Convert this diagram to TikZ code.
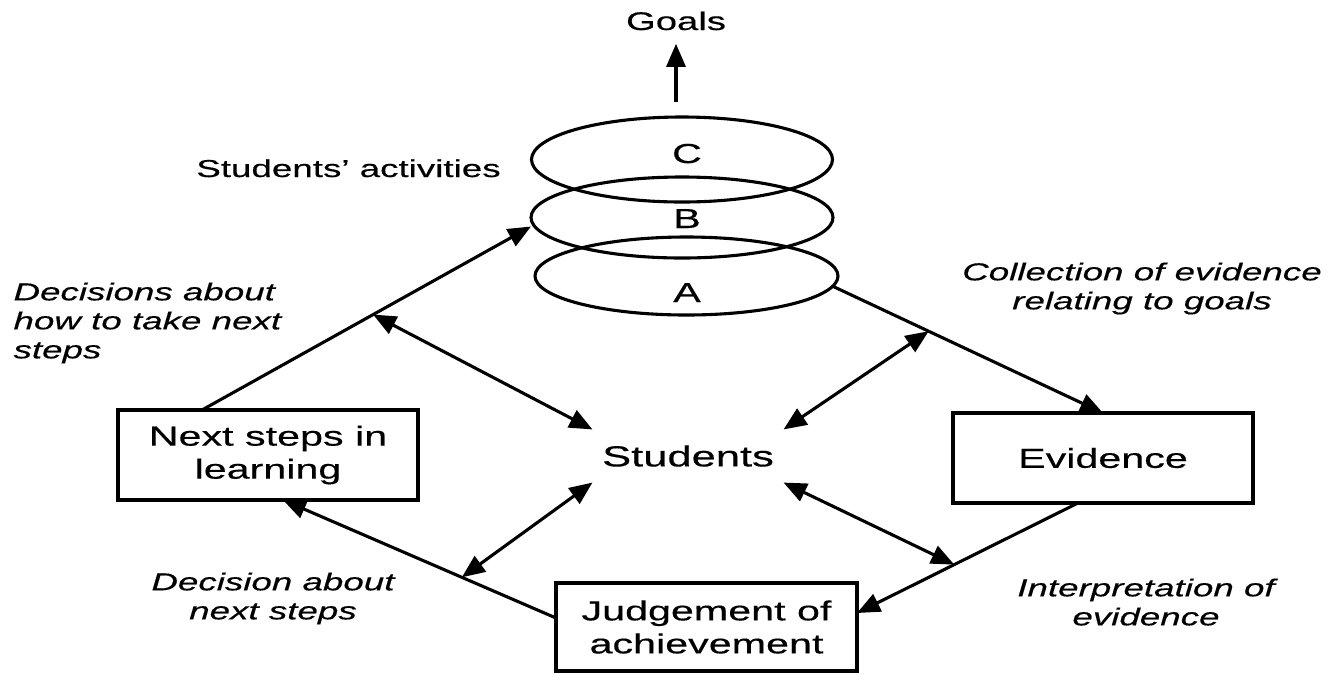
\documentclass[tikz,border=0pt]{standalone}
\usepackage{fontspec}
\setmainfont{Liberation Sans}[FakeStretch=1.5,FakeBold=0.4]
\usetikzlibrary{arrows.meta,calc,shapes.geometric}
\begin{document}
\begin{tikzpicture}[x=1pt,y=-1pt,
  line width=3.1pt,
  arr/.style={-{Triangle[length=23pt,width=19pt]}},
  darr/.style={{Triangle[length=23pt,width=19pt]}-{Triangle[length=23pt,width=19pt]}},
  box/.style={draw, minimum width=300pt, minimum height=90pt, inner sep=0pt, outer sep=0pt, align=center, font=\fontsize{27.5}{33}\selectfont},
  ring/.style={draw, ellipse, inner sep=0pt, outer sep=0pt},
  letter/.style={anchor=base, inner sep=0pt, font=\fontsize{27.5}{33}\selectfont},
  lbl/.style={inner sep=0pt, font=\fontsize{24.5}{29}\selectfont\itshape},
]
\useasboundingbox (0,0) rectangle (1340,673);

% boxes
\node[box] (next) at (268,455) {Next steps in\\learning};
\node[box] (evid) at (1103,458) {Evidence};
\node[box, minimum width=301pt, minimum height=88pt] (judg) at (706.5,627) {Judgement of\\achievement};

% rings
\node[ring, minimum width=301pt, minimum height=85pt] (ellC) at (682,159.5) {};
\node[ring, minimum width=302pt, minimum height=81pt] (ellB) at (682,217.5) {};
\node[ring, minimum width=303pt, minimum height=78pt] (ellA) at (686.5,276) {};
\node[letter] (lc) at (687,163) {C};
\node[letter] (lb) at (687,228) {B};
\node[letter] (la) at (687,302) {A};

% texts
\node[anchor=base, inner sep=0pt, font=\fontsize{25.5}{30}\selectfont] (goals) at (676,30) {Goals};
\node[anchor=base, inner sep=0pt, font=\fontsize{24.5}{29}\selectfont] (sact) at (348.5,177) {Students’ activities};
\node[inner sep=0pt, minimum width=188pt, minimum height=50pt, font=\fontsize{29}{34}\selectfont] (stud) at (688,456) {Students};

\node[lbl, anchor=north west, align=left] (l1) at (12,281) {Decisions about\\how to take next\\steps};
\node[lbl, anchor=north, align=center] (l2) at (1142,261) {Collection of evidence\\relating to goals};
\node[lbl, anchor=north, align=center] (l3) at (273,571) {Decision about\\next steps};
\node[lbl, anchor=north, align=center] (l4) at (1146,577) {Interpretation of\\evidence};

% connectors
\coordinate (gstart) at (676,102);
\draw[arr, shorten >=12pt] (gstart) -- (goals.south);

\coordinate (nb1) at ($(next.north)+(-66,0)$);
\coordinate (nb2) at ($(ellB.west)+(0,9)$);
\draw[arr] (nb1) -- (nb2);
\coordinate (m1) at ($(nb1)!0.52!(nb2)$);
\draw[darr] (m1) -- (stud.north west);

\coordinate (ae1) at (ellA.-4.7);
\coordinate (ae2) at (evid.north);
\draw[arr] (ae1) -- (ae2);
\coordinate (m2) at ($(ae1)!0.355!(ae2)$);
\draw[darr] (stud.north east) -- (m2);

\coordinate (ej1) at ($(evid.south)+(-25,0)$);
\coordinate (ej2) at ($(judg.east)+(0,-14)$);
\draw[arr] (ej1) -- (ej2);
\coordinate (m3) at ($(ej1)!0.56!(ej2)$);
\draw[darr] (stud.south east) -- (m3);

\coordinate (jn1) at ($(judg.west)+(0,-9)$);
\coordinate (jn2) at ($(next.south)+(15,0)$);
\draw[arr] (jn1) -- (jn2);
\coordinate (m4) at ($(jn1)!0.345!(jn2)$);
\draw[darr] (stud.south west) -- (m4);
\end{tikzpicture}
\end{document}
